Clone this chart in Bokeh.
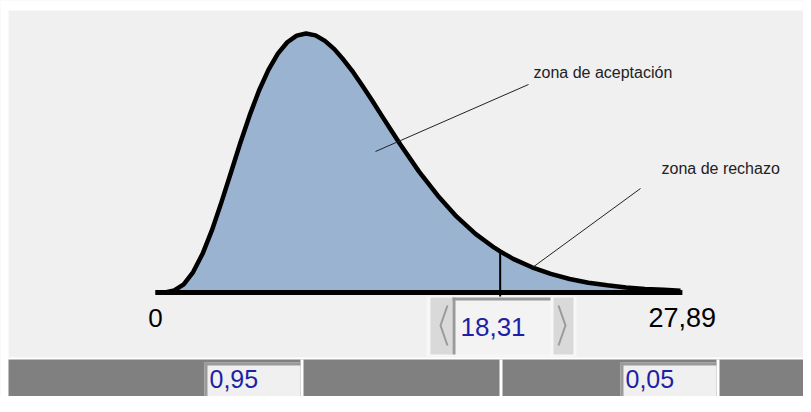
from bokeh.plotting import figure
from bokeh.models import Range1d
from bokeh.core.properties import value
from bokeh.embed import file_html
from bokeh.resources import INLINE

# ---- data (chi-square density, df = 10) ----
chi_x = [0, 0.5, 1, 1.5, 2, 2.5, 3, 3.5, 4, 4.5, 5, 5.5, 6, 6.5, 7, 7.5, 8, 8.5,
         9, 9.5, 10, 10.5, 11, 11.5, 12, 12.5, 13, 14, 15, 16, 17, 18, 18.31,
         19, 20, 21, 22, 23, 24, 25, 26, 27, 27.89]
density = [0, 0.00006, 0.0008, 0.0031, 0.0077, 0.0146, 0.0235, 0.0340, 0.0451,
           0.0563, 0.0668, 0.0762, 0.0840, 0.0901, 0.0944, 0.0969, 0.0977, 0.0970,
           0.0949, 0.0918, 0.0877, 0.0831, 0.0779, 0.0725, 0.0669, 0.0614, 0.0559,
           0.0456, 0.0365, 0.0286, 0.0221, 0.0169, 0.0155, 0.0127, 0.0095, 0.0070,
           0.0051, 0.0037, 0.0027, 0.0019, 0.0013, 0.0010, 0.0007]
x_min = 0
x_max = 27.89
critical = 18.31
critical_density = 0.0155
tick_labels = ["0", "27,89"]
critical_label = "18,31"
prob_labels = ["0,95", "0,05"]
zone_labels = ["zona de aceptación", "zona de rechazo"]

# ---- layout helpers (reference pixel -> data) ----
W, H = 803, 396
SX = 525 / 27.89
SY = 2651.0
def dx(px):
    return (px - 155) / SX
def dy(py):
    return (292 - py) / SY

p = figure(width=W, height=H, output_backend="svg", toolbar_location=None,
           x_axis_type=None, y_axis_type=None, min_border=0,
           x_range=Range1d(dx(0), dx(W)), y_range=Range1d(dy(H), dy(0)))
p.grid.visible = False
p.outline_line_color = None
p.background_fill_color = "#f0f0f0"
p.border_fill_color = "#f0f0f0"

def box(x0, y0, x1, y1, color):
    p.quad(left=dx(x0), right=dx(x1), top=dy(y0), bottom=dy(y1),
           fill_color=color, line_color=None)

# white frame edges as in the original screenshot
box(0, 0, 811, 10, "#ffffff")
box(0, 0, 8, 412, "#ffffff")

# filled area and curve
p.varea(x=chi_x, y1=[0] * len(chi_x), y2=density, fill_color="#99b3d1")
p.line(chi_x, density, line_color="black", line_width=4.5, line_join="round")
p.segment(x0=[x_min], y0=[0], x1=[x_max + 0.1], y1=[0], line_color="black", line_width=5)
p.segment(x0=[critical], y0=[dy(298)], x1=[critical], y1=[critical_density],
          line_color="black", line_width=2)

# annotation leader lines
p.segment(x0=[dx(375), dx(532)], y0=[dy(151), dy(267)],
          x1=[dx(528), dx(640)], y1=[dy(84), dy(188)],
          line_color="#222222", line_width=1)
p.text(x=[dx(533), dx(661)], y=[dy(72), dy(168)], text=zone_labels,
       text_font=value("Liberation Sans"), text_font_size=value("16px"),
       text_color="#222222", text_align="left", text_baseline="middle")

# axis end labels
p.text(x=[x_min], y=[dy(317)], text=[tick_labels[0]],
       text_font=value("Liberation Sans"), text_font_size=value("26px"),
       text_color="black", text_align="center", text_baseline="middle")
p.text(x=[dx(648)], y=[dy(317)], text=[tick_labels[1]],
       text_font=value("Liberation Sans"), text_font_size=value("27px"),
       text_color="black", text_align="left", text_baseline="middle")

# spinner widget
box(426, 296, 576, 356, "#f7f7f7")
box(430, 297, 452, 354, "#d9d9d9")
box(553, 297, 573, 354, "#d9d9d9")
box(452, 297, 550, 354, "#f3f3f3")
box(452, 297, 550, 300, "#9a9a9a")
box(452, 297, 455, 354, "#9a9a9a")
p.multi_line(xs=[[dx(447), dx(440), dx(447)], [dx(558), dx(565), dx(558)]],
             ys=[[dy(305), dy(325), dy(345)], [dy(305), dy(325), dy(345)]],
             line_color="#9a9a9a", line_width=2)
p.text(x=[dx(460)], y=[dy(326)], text=[critical_label],
       text_font=value("Liberation Sans"), text_font_size=value("26px"),
       text_color="#1f1fa6", text_align="left", text_baseline="middle")

# bottom probability panel
box(8, 357, 811, 412, "#ffffff")
box(8, 359, 811, 412, "#808080")
box(300, 359, 303, 412, "#ffffff")
box(499, 359, 502, 412, "#ffffff")
box(716, 359, 719, 412, "#ffffff")
box(204, 362, 300, 412, "#f0f0f0")
box(204, 362, 300, 365, "#9a9a9a")
box(204, 362, 207, 412, "#9a9a9a")
box(620, 362, 716, 412, "#f0f0f0")
box(620, 362, 716, 365, "#9a9a9a")
box(620, 362, 623, 412, "#9a9a9a")
p.text(x=[dx(209), dx(625)], y=[dy(378), dy(378)], text=prob_labels,
       text_font=value("Liberation Sans"), text_font_size=value("25px"),
       text_color="#1f1fa6", text_align="left", text_baseline="middle")

open("out.html", "w").write(file_html(p, INLINE))
